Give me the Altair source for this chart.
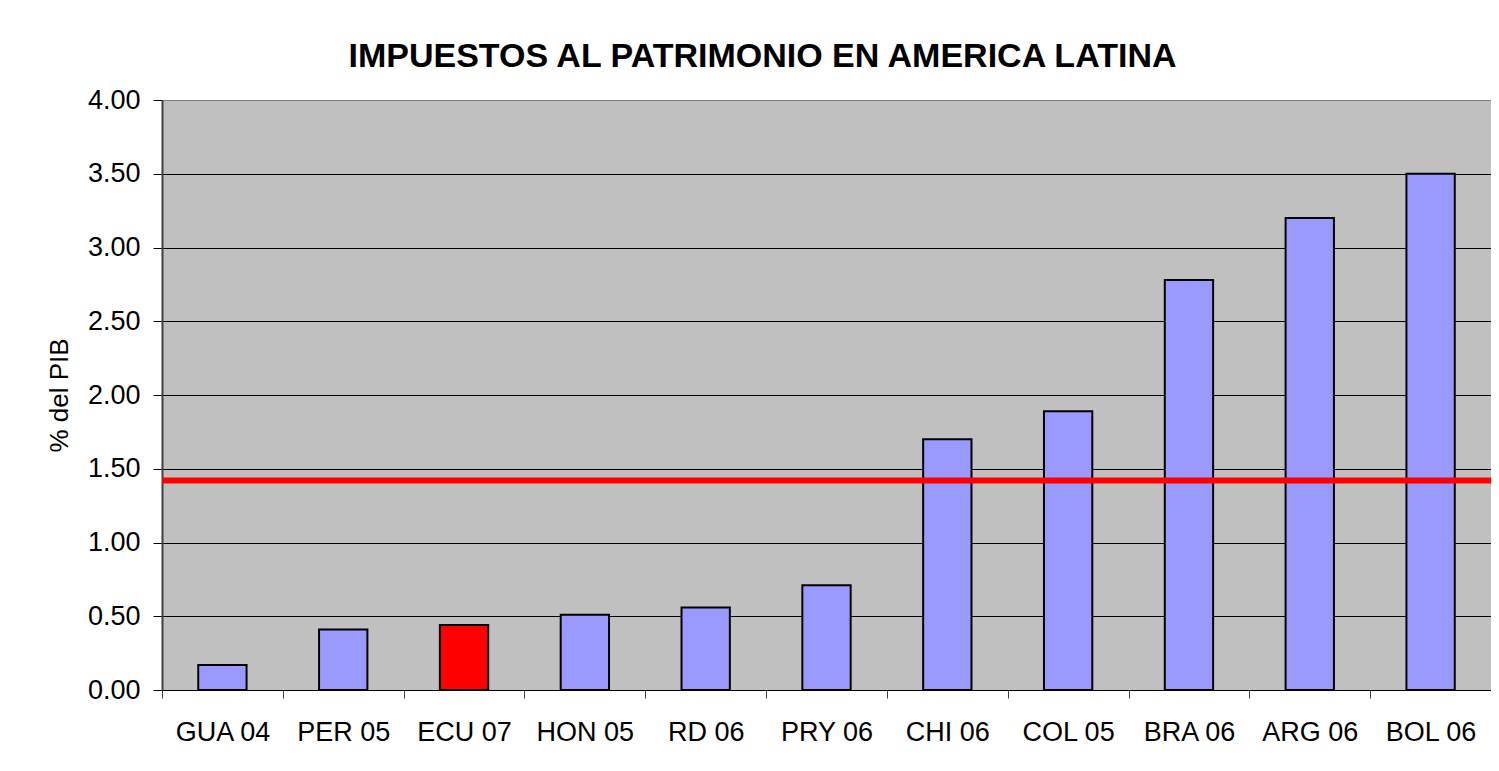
import altair as alt
import pandas as pd

paises = ["GUA 04", "PER 05", "ECU 07", "HON 05", "RD 06", "PRY 06",
          "CHI 06", "COL 05", "BRA 06", "ARG 06", "BOL 06"]
valores = [0.17, 0.41, 0.44, 0.51, 0.56, 0.71, 1.70, 1.89, 2.78, 3.20, 3.50]
destacado = "ECU 07"
promedio = [1.42]
ticks_y = [0, 0.5, 1.0, 1.5, 2.0, 2.5, 3.0, 3.5, 4.0]
titulo = "IMPUESTOS AL PATRIMONIO EN AMERICA LATINA"
titulo_y = "% del PIB"

df = pd.DataFrame({"pais": paises, "valor": valores})
df_prom = pd.DataFrame({"valor": promedio})

FONT = "Liberation Sans"

x = alt.X(
    "pais:N", sort=paises, title=None,
    scale=alt.Scale(paddingInner=0, paddingOuter=0),
    axis=alt.Axis(labelAngle=0, labelFontSize=27, labelFont=FONT, labelColor="black",
                  labelPadding=21, labelLimit=0, tickBand="extent", tickSize=8,
                  tickColor="#404040", tickWidth=1, domainColor="black", domainWidth=1,
                  grid=False),
)
y = alt.Y(
    "valor:Q", title=titulo_y,
    scale=alt.Scale(domain=[0, 4], nice=False),
    axis=alt.Axis(values=ticks_y, format=".2f", labelFontSize=27, labelFont=FONT,
                  labelColor="black", labelPadding=13, tickSize=9, tickColor="black",
                  tickWidth=1, domainColor="#404040", domainWidth=2, grid=True,
                  gridColor=alt.condition("datum.value == 4", alt.value("#808080"), alt.value("black")),
                  gridWidth=1, titleFontSize=26, titleFont=FONT, titleFontWeight="normal",
                  titleColor="black", titlePadding=15),
)

bars = alt.Chart(df).mark_bar(
    width=alt.RelativeBandSize(0.4), stroke="black", strokeWidth=2
).encode(
    x=x, y=y,
    color=alt.condition(alt.datum.pais == destacado, alt.value("#FF0000"), alt.value("#9999FF")),
)

linea = alt.Chart(df_prom).mark_rule(color="#FF0000", strokeWidth=6).encode(
    y=alt.Y("valor:Q")
)

chart = alt.layer(bars, linea).properties(
    width=1329, height=590,
    title=alt.TitleParams(titulo, fontSize=34, font=FONT, fontWeight="bold", color="black",
                          anchor="middle", offset=12, dx=-64),
    padding={"left": 154, "top": 92, "right": 0, "bottom": 73},
    autosize=alt.AutoSizeParams(type="none"),
    background="white",
).configure_view(fill="#C0C0C0", stroke="#808080", strokeWidth=1)

chart.save("out.html", embed_options={"renderer": "svg", "actions": False})
